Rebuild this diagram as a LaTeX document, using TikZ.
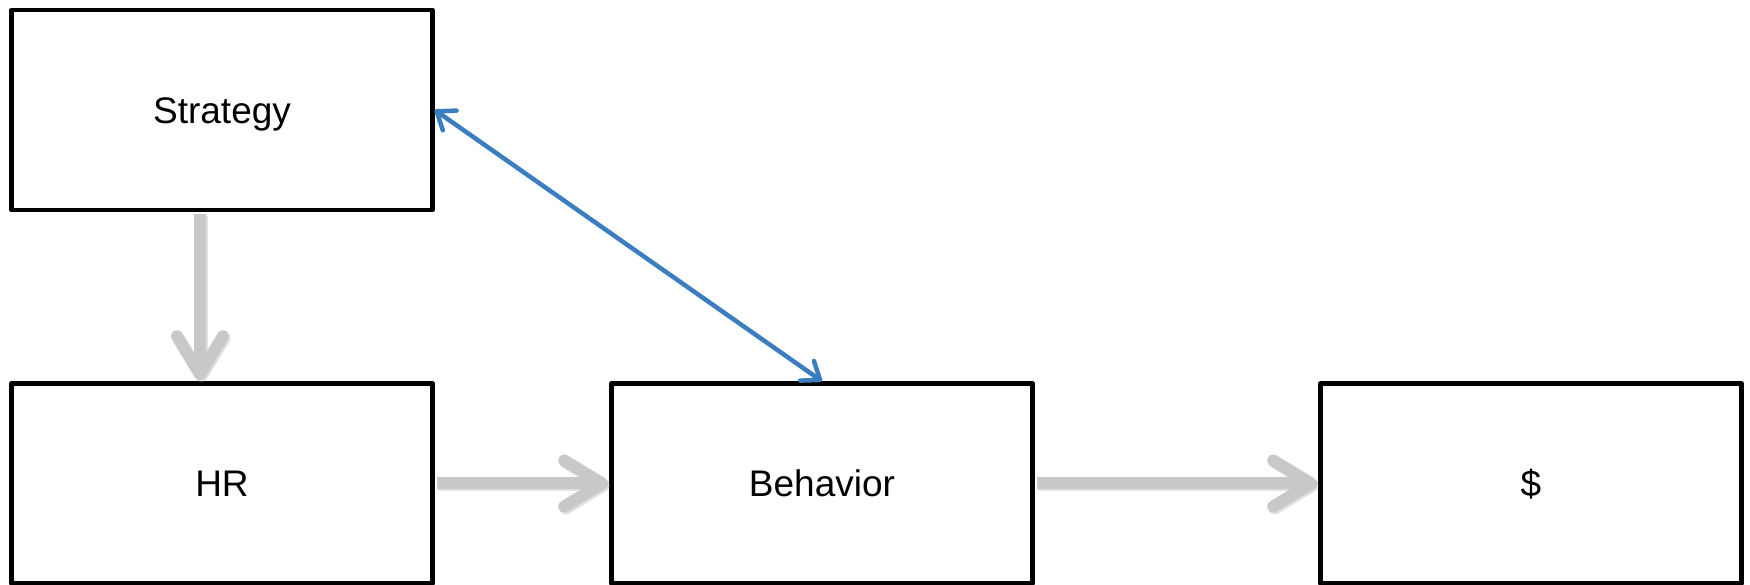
\documentclass[tikz,border=0pt]{standalone}
\usepackage{fontspec}
\setmainfont{Liberation Sans}
\usetikzlibrary{arrows.meta}
\definecolor{arrgray}{HTML}{C8C8C8}
\definecolor{arrblue}{HTML}{3B7EC0}
\tikzset{
  box/.style={draw=black, line width=4.5pt, line join=round, fill=white,
    minimum width=421pt, minimum height=200pt, inner sep=0pt,
    text height=26.5pt, text depth=0pt,
    font=\fontsize{37}{44}\selectfont},
  grayarrow/.style={draw=arrgray, line width=12pt,
    -{Straight Barb[length=38pt, width=46pt, round]},
    preaction={draw=black!35, opacity=0.35, line width=12pt, transform canvas={shift={(1.5pt,-2pt)}},
      -{Straight Barb[length=38pt, width=46pt, round]}}},
  bluearrow/.style={draw=arrblue, line width=4.5pt,
    {Straight Barb[length=16pt, width=24pt, round]}-{Straight Barb[length=16pt, width=24pt, round]}}
}
\begin{document}
\begin{tikzpicture}[x=1pt,y=1pt]
\useasboundingbox (0,0) rectangle (1750,585);
\node[box] (Strategy) at (222,475) {Strategy};
\node[box] (HR) at (222,101.5) {HR};
\node[box] (Behavior) at (822,101.5) {Behavior};
\node[box] (money) at (1531,101.5) {\$};
\draw[grayarrow] ([xshift=-22pt,yshift=-2pt]Strategy.south) -- ([xshift=-22pt,yshift=1pt]HR.north);
\draw[grayarrow] ([xshift=2pt]HR.east) -- ([xshift=-1pt]Behavior.west);
\draw[grayarrow] ([xshift=2pt]Behavior.east) -- ([xshift=-1pt]money.west);
\draw[bluearrow] (Strategy.east) -- (Behavior.north);
\end{tikzpicture}
\end{document}
